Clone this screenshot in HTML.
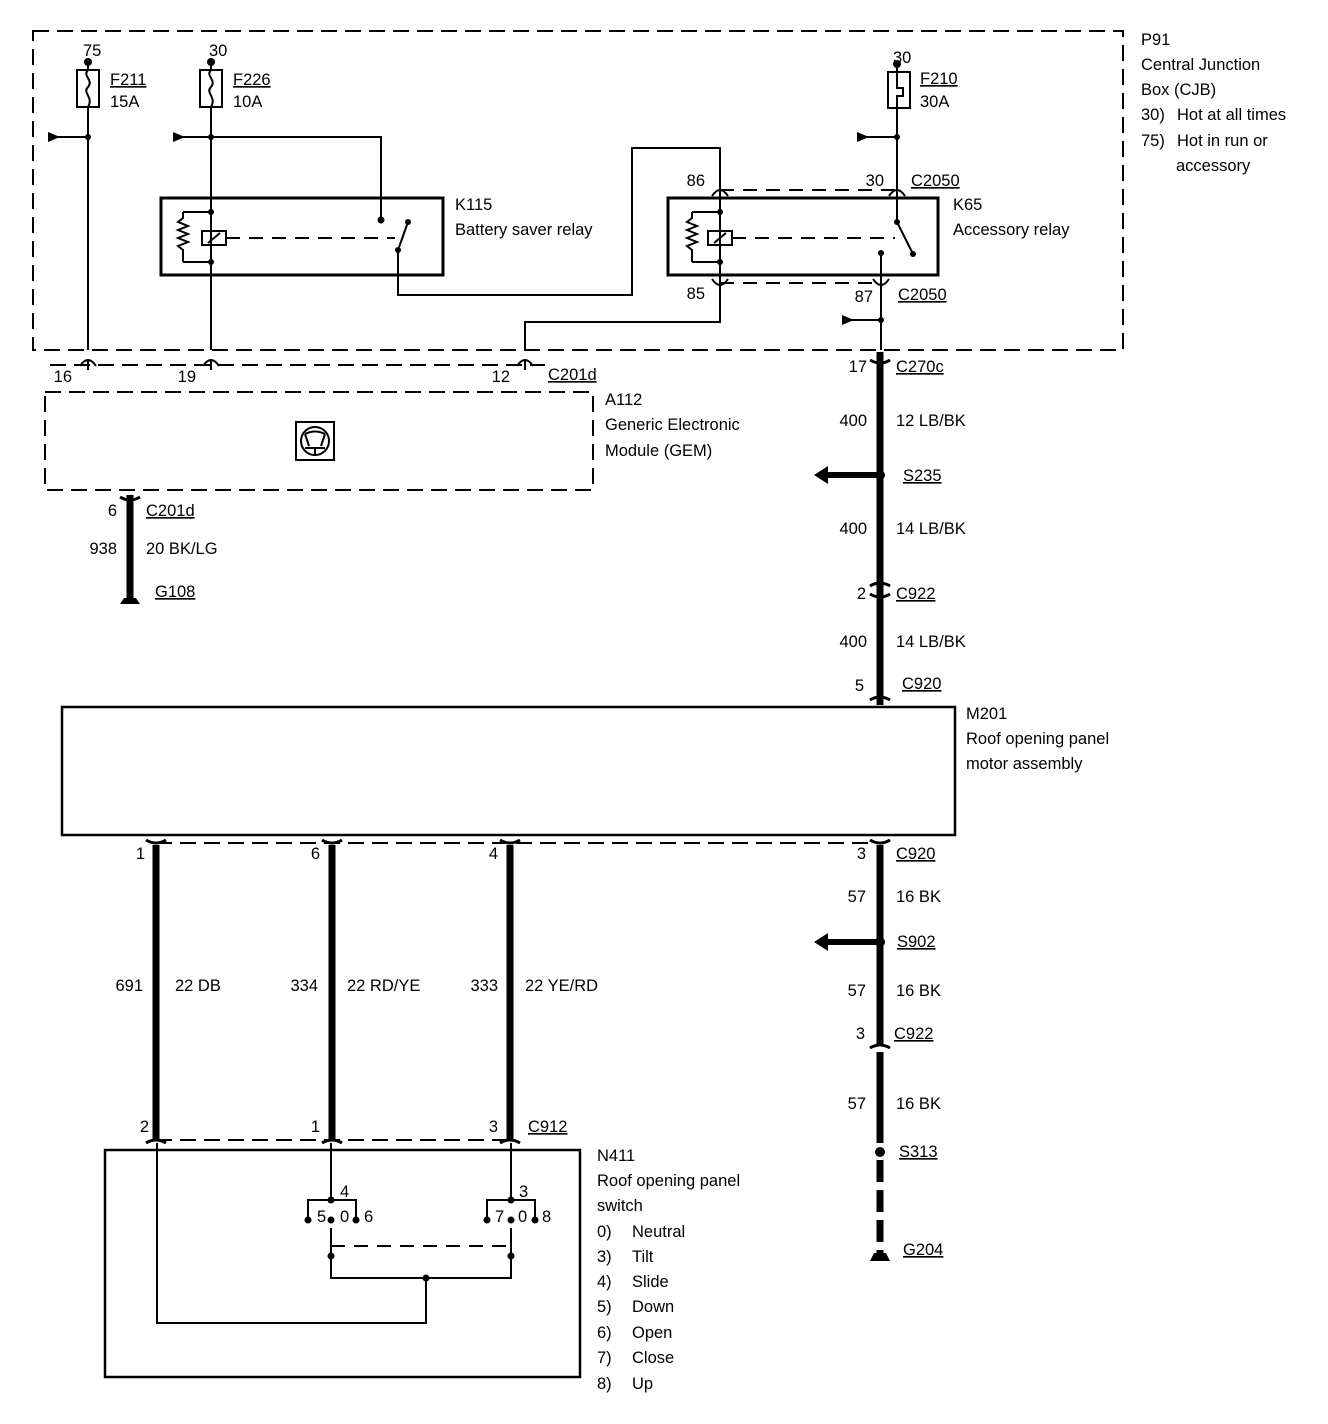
<!DOCTYPE html>
<html><head><meta charset="utf-8"><style>
html,body{margin:0;padding:0;background:#fff}
svg{display:block}
text{font-family:"Liberation Sans",Arial,sans-serif;font-size:16.5px;fill:#000}
.u{text-decoration:underline}
.r{text-anchor:end}
</style></head><body>
<svg width="1328" height="1424" viewBox="0 0 1328 1424" xmlns="http://www.w3.org/2000/svg">
<defs>
<marker id="ah" markerWidth="12" markerHeight="12" refX="2" refY="6" orient="auto" markerUnits="userSpaceOnUse"><path d="M12,1 L0,6 L12,11 Z" fill="#000"/></marker>
</defs>
<g fill="none" stroke="#000" stroke-width="2">
<rect x="33" y="31" width="1090" height="319" stroke-dasharray="16,8"/>
<rect x="45" y="392" width="548" height="98" stroke-dasharray="16,8"/>
<rect x="77" y="70" width="22" height="37"/>
<path d="M88,60 V70 M88,70 c-6,6 6,10 0,17 c-6,6 6,10 0,20 M88,107 V350"/>
<rect x="200" y="70" width="22" height="37"/>
<path d="M211,60 V70 M211,70 c-6,6 6,10 0,17 c-6,6 6,10 0,20 M211,107 V350"/>
<rect x="888" y="72" width="22" height="36"/>
<path d="M897,62 V72 M897,72 V88 H903 V96 H897 V108 M897,108 V190"/>
<path d="M88,137 H58" marker-end="url(#ah)"/>
<path d="M211,137 H183" marker-end="url(#ah)"/>
<path d="M897,137 H867" marker-end="url(#ah)"/>
<path d="M881,320 H852" marker-end="url(#ah)"/>
<path d="M211,137 H381 V220"/>
<rect x="161" y="198" width="282" height="77" stroke-width="3"/>
<path d="M183,212 H211 M183,262 H211 M183,212 l0,6 l-5,4 l10,4 l-10,4 l10,4 l-10,4 l10,4 l-10,4 l5,4 l0,12"/>
<rect x="202" y="231" width="24" height="14"/>
<path d="M208,243 L220,233"/>
<path d="M226,238 H395" stroke-dasharray="14,9"/>
<path d="M398,250 L408,222 M398,250 V295 H632 V148 H720 V190"/>
<rect x="668" y="198" width="270" height="77" stroke-width="3"/>
<path d="M720,190 V283 M692,212 H720 M692,262 H720 M692,212 l0,6 l-5,4 l10,4 l-10,4 l10,4 l-10,4 l10,4 l-10,4 l5,4 l0,12"/>
<rect x="708" y="231" width="24" height="14"/>
<path d="M714,243 L726,233"/>
<path d="M732,238 H895" stroke-dasharray="14,9"/>
<path d="M897,190 V222 L913,254 M881,253 V350"/>
<path d="M720,190 H897" stroke-dasharray="14,9"/>
<path d="M720,283 H881" stroke-dasharray="14,9"/>
<path d="M720,283 V322 H525 V350"/>
<path d="M712,196 q8,-12 16,0 M889,196 q8,-12 16,0"/>
<path d="M712,279 q8,12 16,0 M873,279 q8,12 16,0"/>
<path d="M50,365 H545" stroke-dasharray="16,8"/>
<path d="M80,366 q8,-12 16,0 M88,360 V370 M203,366 q8,-12 16,0 M211,360 V370 M517,366 q8,-12 16,0 M525,360 V370"/>
<rect x="296" y="422" width="38" height="38"/>
<circle cx="315" cy="441" r="14"/>
<path d="M305,434 q10,-5 20,0 M305,448 H325 M315,448 V456 M305,434 L309,446 M325,434 L321,446"/>
<path d="M130,495 V600" stroke-width="7"/>
<path d="M120,497 q10,6 20,0" stroke-width="3"/>
<path d="M880,352 V705" stroke-width="7"/>
<path d="M870,360 q10,6 20,0 M870,586 q10,-6 20,0 M870,594 q10,6 20,0 M870,700 q10,-6 20,0" stroke-width="3"/>
<path d="M880,475 H826" stroke-width="6"/>
<rect x="62" y="707" width="893" height="128" stroke-width="2.5"/>
<path d="M156,843 H880" stroke-dasharray="16,8"/>
<path d="M156,845 V1140 M332,845 V1140 M510,845 V1140 M880,845 V1045" stroke-width="7"/>
<path d="M880,1052 V1143" stroke-width="7"/>
<path d="M880,1160 V1255" stroke-width="7" stroke-dasharray="22,8"/>
<path d="M146,840 q10,6 20,0 M322,840 q10,6 20,0 M500,840 q10,6 20,0 M870,840 q10,6 20,0" stroke-width="3"/>
<path d="M870,1048 q10,-6 20,0" stroke-width="3"/>
<path d="M880,942 H826" stroke-width="6"/>
<path d="M156,1140 H510" stroke-dasharray="16,8"/>
<path d="M146,1143 q10,-6 20,0 M322,1143 q10,-6 20,0 M500,1143 q10,-6 20,0" stroke-width="3"/>
<rect x="105" y="1150" width="475" height="227" stroke-width="2.5"/>
<path d="M157,1143 V1323 H426 V1278 M331,1143 V1200 M308,1218 V1200 H356 V1218 M331,1228 V1278 H511 V1228 M511,1143 V1200 M487,1218 V1200 H535 V1218"/>
<path d="M331,1246 H511" stroke-dasharray="14,9"/>
</g>
<g fill="#000">
<circle cx="88" cy="62" r="4"/><circle cx="211" cy="62" r="4"/><circle cx="897" cy="64" r="4"/>
<circle cx="88" cy="137" r="3"/><circle cx="211" cy="137" r="3"/><circle cx="897" cy="137" r="3"/><circle cx="881" cy="320" r="3"/>
<circle cx="211" cy="212" r="3"/><circle cx="211" cy="262" r="3"/><circle cx="381" cy="220" r="3.5"/><circle cx="398" cy="250" r="3"/><circle cx="408" cy="222" r="3"/>
<circle cx="720" cy="212" r="3"/><circle cx="720" cy="262" r="3"/><circle cx="897" cy="222" r="3"/><circle cx="913" cy="254" r="3"/><circle cx="881" cy="253" r="3"/>
<circle cx="880" cy="475" r="5"/><circle cx="880" cy="942" r="5"/><circle cx="880" cy="1152" r="5"/>
<path d="M814,475 L828,466 L828,484 Z"/><path d="M814,942 L828,933 L828,951 Z"/>
<path d="M120,604 H140 L136,598 H124 Z"/><path d="M870,1261 H890 L886,1253 H874 Z"/>
<circle cx="331" cy="1200" r="3.5"/><circle cx="511" cy="1200" r="3.5"/>
<circle cx="308" cy="1220" r="3.5"/><circle cx="331" cy="1220" r="3.5"/><circle cx="356" cy="1220" r="3.5"/>
<circle cx="487" cy="1220" r="3.5"/><circle cx="511" cy="1220" r="3.5"/><circle cx="535" cy="1220" r="3.5"/>
<circle cx="331" cy="1256" r="3.5"/><circle cx="511" cy="1256" r="3.5"/><circle cx="426" cy="1278" r="3.5"/>
</g>
<text x="83" y="56">75</text><text x="209" y="56">30</text><text x="893" y="63">30</text>
<text x="110" y="85" class="u">F211</text><text x="110" y="107">15A</text>
<text x="233" y="85" class="u">F226</text><text x="233" y="107">10A</text>
<text x="920" y="84" class="u">F210</text><text x="920" y="107">30A</text>
<text x="1141" y="45">P91</text><text x="1141" y="70">Central Junction</text><text x="1141" y="95">Box (CJB)</text>
<text x="1141" y="120">30)</text><text x="1177" y="120">Hot at all times</text><text x="1141" y="146">75)</text><text x="1177" y="146">Hot in run or</text><text x="1176" y="171">accessory</text>
<text x="455" y="210">K115</text><text x="455" y="235">Battery saver relay</text>
<text x="953" y="210">K65</text><text x="953" y="235">Accessory relay</text>
<text x="705" y="186" class="r">86</text><text x="884" y="186" class="r">30</text><text x="911" y="186" class="u">C2050</text>
<text x="705" y="299" class="r">85</text><text x="873" y="302" class="r">87</text><text x="898" y="300" class="u">C2050</text>
<text x="72" y="382" class="r">16</text><text x="196" y="382" class="r">19</text><text x="510" y="382" class="r">12</text><text x="548" y="380" class="u">C201d</text>
<text x="605" y="405">A112</text><text x="605" y="430">Generic Electronic</text><text x="605" y="456">Module (GEM)</text>
<text x="117" y="516" class="r">6</text><text x="146" y="516" class="u">C201d</text>
<text x="117" y="554" class="r">938</text><text x="146" y="554">20 BK/LG</text><text x="155" y="597" class="u">G108</text>
<text x="867" y="372" class="r">17</text><text x="896" y="372" class="u">C270c</text>
<text x="867" y="426" class="r">400</text><text x="896" y="426">12 LB/BK</text>
<text x="903" y="481" class="u">S235</text>
<text x="867" y="534" class="r">400</text><text x="896" y="534">14 LB/BK</text>
<text x="866" y="599" class="r">2</text><text x="896" y="599" class="u">C922</text>
<text x="867" y="647" class="r">400</text><text x="896" y="647">14 LB/BK</text>
<text x="864" y="691" class="r">5</text><text x="902" y="689" class="u">C920</text>
<text x="966" y="719">M201</text><text x="966" y="744">Roof opening panel</text><text x="966" y="769">motor assembly</text>
<text x="145" y="859" class="r">1</text><text x="320" y="859" class="r">6</text><text x="498" y="859" class="r">4</text>
<text x="866" y="859" class="r">3</text><text x="896" y="859" class="u">C920</text>
<text x="866" y="902" class="r">57</text><text x="896" y="902">16 BK</text><text x="897" y="947" class="u">S902</text>
<text x="866" y="996" class="r">57</text><text x="896" y="996">16 BK</text>
<text x="865" y="1039" class="r">3</text><text x="894" y="1039" class="u">C922</text>
<text x="866" y="1109" class="r">57</text><text x="896" y="1109">16 BK</text><text x="899" y="1157" class="u">S313</text>
<text x="903" y="1255" class="u">G204</text>
<text x="143" y="991" class="r">691</text><text x="175" y="991">22 DB</text>
<text x="318" y="991" class="r">334</text><text x="347" y="991">22 RD/YE</text>
<text x="498" y="991" class="r">333</text><text x="525" y="991">22 YE/RD</text>
<text x="149" y="1132" class="r">2</text><text x="320" y="1132" class="r">1</text><text x="498" y="1132" class="r">3</text><text x="528" y="1132" class="u">C912</text>
<text x="597" y="1161">N411</text><text x="597" y="1186">Roof opening panel</text><text x="597" y="1211">switch</text>
<text x="597" y="1237">0)</text><text x="632" y="1237">Neutral</text>
<text x="597" y="1262">3)</text><text x="632" y="1262">Tilt</text>
<text x="597" y="1287">4)</text><text x="632" y="1287">Slide</text>
<text x="597" y="1312">5)</text><text x="632" y="1312">Down</text>
<text x="597" y="1338">6)</text><text x="632" y="1338">Open</text>
<text x="597" y="1363">7)</text><text x="632" y="1363">Close</text>
<text x="597" y="1389">8)</text><text x="632" y="1389">Up</text>
<text x="340" y="1197">4</text><text x="317" y="1222">5</text><text x="340" y="1222">0</text><text x="364" y="1222">6</text>
<text x="519" y="1197">3</text><text x="495" y="1222">7</text><text x="518" y="1222">0</text><text x="542" y="1222">8</text>
</svg>
</body></html>
